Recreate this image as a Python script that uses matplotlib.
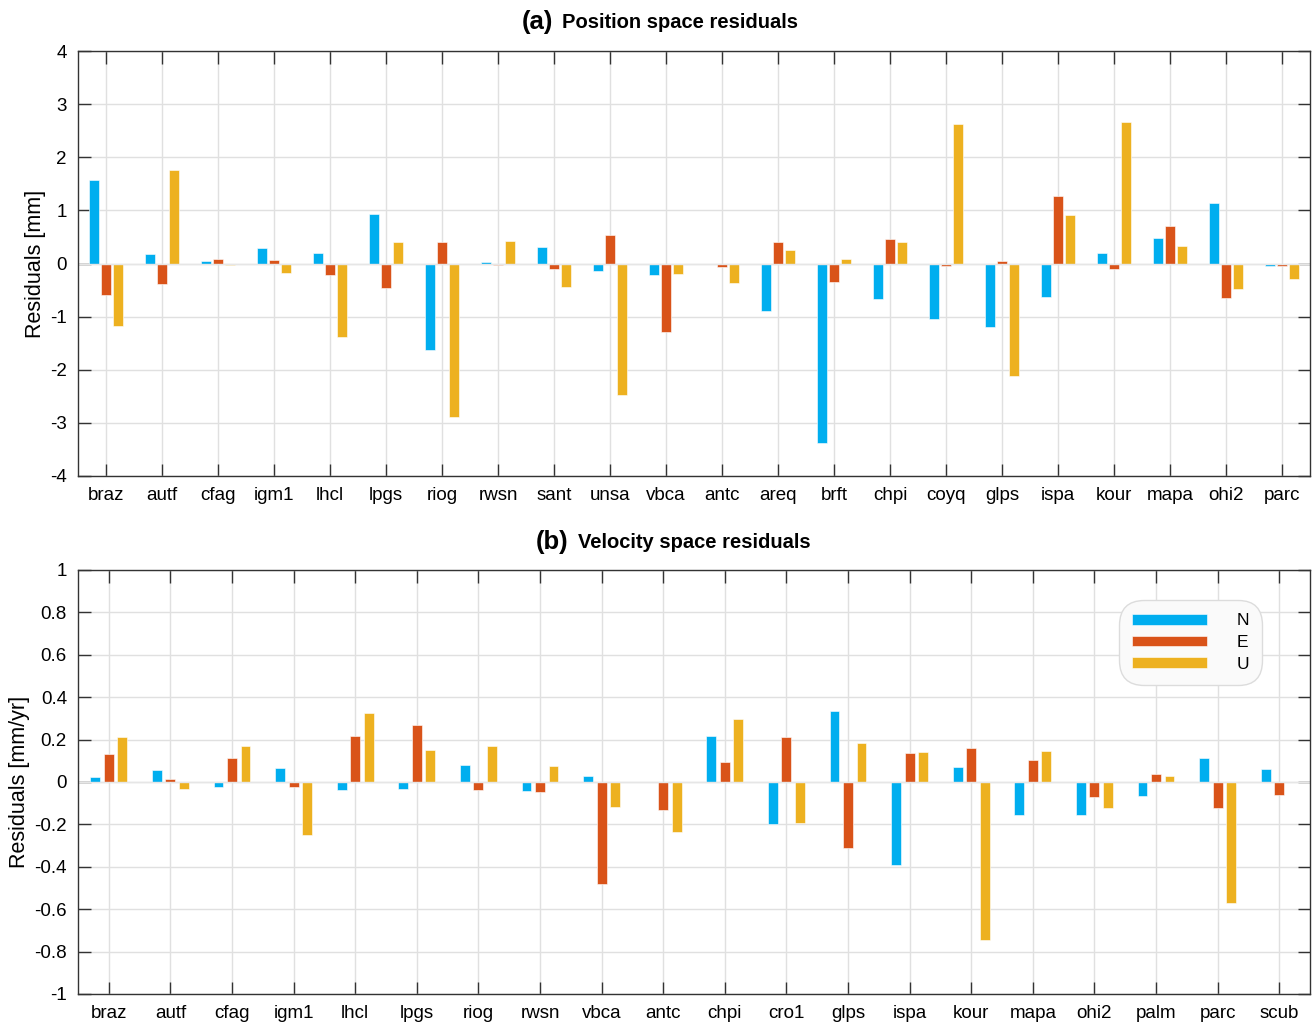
import numpy as np
import matplotlib
matplotlib.use("Agg")
import matplotlib.pyplot as plt

plt.rcParams['font.family'] = ['Liberation Sans', 'DejaVu Sans']

# ---------------- data ----------------
pos_sites = ["braz", "autf", "cfag", "igm1", "lhcl", "lpgs", "riog", "rwsn", "sant", "unsa", "vbca",
             "antc", "areq", "brft", "chpi", "coyq", "glps", "ispa", "kour", "mapa", "ohi2", "parc"]
pos_N = [1.58, 0.18, 0.04, 0.29, 0.19, 0.94, -1.62, 0.02, 0.31, -0.15, -0.21,
         0.00, -0.89, -3.37, -0.67, -1.04, -1.19, -0.63, 0.19, 0.48, 1.13, -0.04]
pos_E = [-0.60, -0.38, 0.09, 0.06, -0.21, -0.46, 0.40, -0.03, -0.10, 0.53, -1.29,
         -0.07, 0.41, -0.34, 0.47, -0.04, 0.04, 1.28, -0.10, 0.70, -0.65, -0.04]
pos_U = [-1.17, 1.76, -0.03, -0.17, -1.38, 0.41, -2.88, 0.42, -0.44, -2.47, -0.19,
         -0.36, 0.26, 0.09, 0.40, 2.62, -2.12, 0.91, 2.66, 0.33, -0.48, -0.29]

vel_sites = ["braz", "autf", "cfag", "igm1", "lhcl", "lpgs", "riog", "rwsn", "vbca", "antc",
             "chpi", "cro1", "glps", "ispa", "kour", "mapa", "ohi2", "palm", "parc", "scub"]
vel_N = [0.022, 0.058, -0.022, 0.065, -0.038, -0.032, 0.081, -0.041, 0.027, 0.0,
         0.216, -0.200, 0.333, -0.392, 0.070, -0.156, -0.158, -0.066, 0.115, 0.062]
vel_E = [0.133, 0.013, 0.115, -0.022, 0.218, 0.270, -0.036, -0.047, -0.482, -0.131,
         0.095, 0.213, -0.310, 0.137, 0.160, 0.104, -0.073, 0.039, -0.122, -0.063]
vel_U = [0.212, -0.032, 0.169, -0.251, 0.327, 0.152, 0.171, 0.076, -0.117, -0.235,
         0.297, -0.194, 0.186, 0.141, -0.746, 0.148, -0.122, 0.027, -0.572, 0.0]

series_labels = ["N", "E", "U"]
colors = ["#00AEEF", "#D95319", "#EDB120"]

W, H = 1316, 1024
fig = plt.figure(figsize=(W / 100, H / 100), dpi=100)

def fx(px):
    return px / W

def fy(py):
    return 1 - py / H

ax1 = fig.add_axes([fx(78), fy(476), fx(1310) - fx(78), fy(51) - fy(476)])
ax2 = fig.add_axes([fx(78), fy(994), fx(1310) - fx(78), fy(570) - fy(994)])

def fmt(t):
    t = round(float(t), 2) + 0.0
    if abs(t) < 1e-9:
        t = 0.0
    return "%g" % t

def draw(ax, sites, data, yticks, ylabel, offs, width):
    n = len(sites)
    x = np.arange(n)
    bars = []
    for i, (vals, c, lab) in enumerate(zip(data, colors, series_labels)):
        b = ax.bar(x + offs[i], vals, width=width, color=c, edgecolor="white",
                   linewidth=0.4, label=lab, zorder=3)
        bars.append(b)
    ax.axhline(0, color="#e6e6e6", lw=1.0, zorder=4)
    ax.set_xlim(-0.5, n - 0.5)
    ax.set_ylim(yticks[0], yticks[-1])
    ax.set_xticks(x)
    ax.set_xticklabels(sites)
    ax.set_yticks(yticks)
    ax.set_yticklabels([fmt(t) for t in yticks])
    ax.grid(True, color="#e0e0e0", lw=1.0, zorder=0)
    ax.set_axisbelow(True)
    ax.tick_params(direction="in", length=9, width=1.0, color="#333333",
                   top=True, right=True, labelsize=13.5, pad=8)
    for s in ax.spines.values():
        s.set_color("#333333")
        s.set_linewidth(1.0)
        s.set_zorder(5)
    ax.set_ylabel(ylabel, fontsize=15.5, labelpad=3)
    return bars

draw(ax1, pos_sites, [pos_N, pos_E, pos_U], np.arange(-4, 5, 1), "Residuals [mm]",
     [-0.214, 0.0, 0.214], 0.165)
bars = draw(ax2, vel_sites, [vel_N, vel_E, vel_U], np.round(np.arange(-1, 1.01, 0.2), 2),
            "Residuals [mm/yr]", [-0.22, 0.0, 0.22], 0.16)

leg = ax2.legend(loc="upper right", bbox_to_anchor=(0.957, 0.916), borderaxespad=0,
                 fontsize=12.5, handlelength=4.3, handleheight=0.55, handletextpad=1.7,
                 labelspacing=0.38, borderpad=0.45, frameon=True, fancybox=True)
fr = leg.get_frame()
fr.set_facecolor("#fafafa")
fr.set_edgecolor("#dcdcdc")
fr.set_alpha(1.0)
fr.set_boxstyle("round,pad=0.3,rounding_size=1.4")

# titles
fig.text(fx(553), fy(22), "(a)", ha="right", va="center", fontsize=18.5, fontweight="bold")
fig.text(fx(562), fy(23), "Position space residuals", ha="left", va="center",
         fontsize=14.5, fontweight="bold")
fig.text(fx(568), fy(542), "(b)", ha="right", va="center", fontsize=18.5, fontweight="bold")
fig.text(fx(578), fy(543), "Velocity space residuals", ha="left", va="center",
         fontsize=14.5, fontweight="bold")

fig.savefig("out.png", dpi=100)
